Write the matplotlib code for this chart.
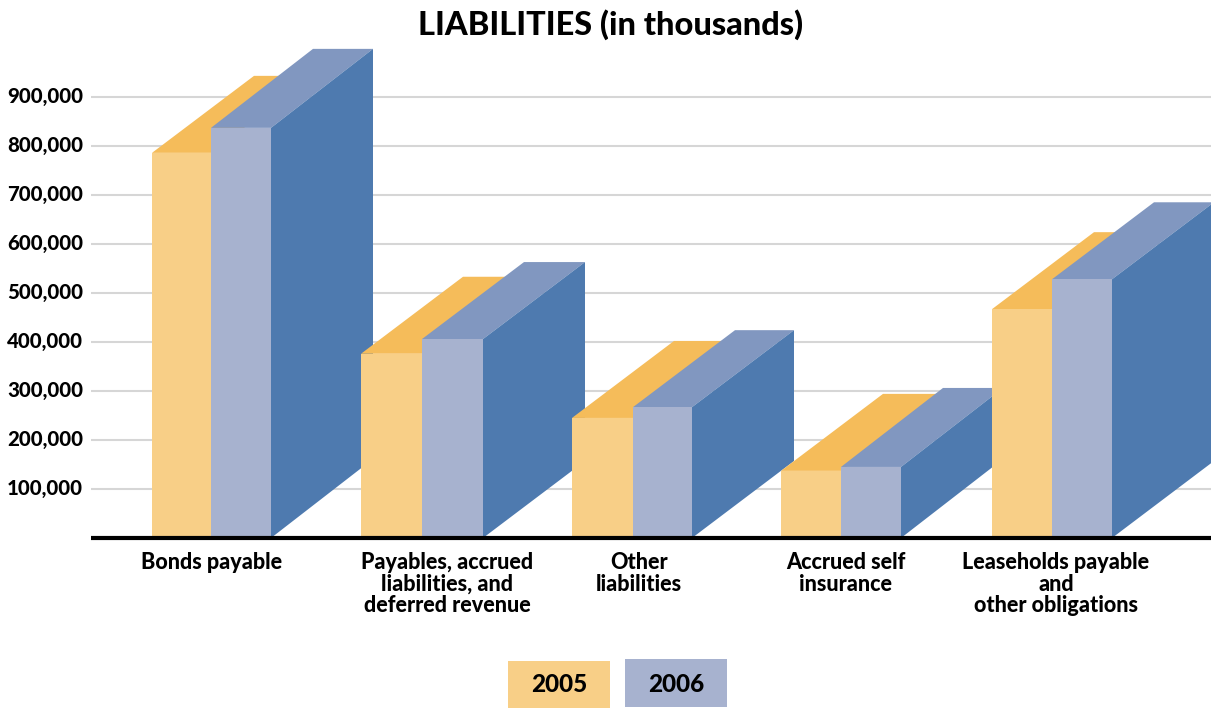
import matplotlib
matplotlib.use("Agg")
import matplotlib.pyplot as plt
from matplotlib.patches import Polygon, Rectangle

plt.rcParams["font.family"] = ["Lato", "DejaVu Sans"]

# Data
categories = [
    "Bonds payable",
    "Payables, accrued\nliabilities, and\ndeferred revenue",
    "Other\nliabilities",
    "Accrued self\ninsurance",
    "Leaseholds payable\nand\nother obligations",
]
values_2005 = [786000, 376000, 245000, 137000, 467000]
values_2006 = [837000, 406000, 267000, 145000, 528000]
tick_values = [100000, 200000, 300000, 400000, 500000, 600000, 700000, 800000, 900000]
years = ["2005", "2006"]

# Colours
front_2005 = "#F8CF87"
top_2005 = "#F5BC5A"
front_2006 = "#A7B2CF"
top_2006 = "#8197C0"
side_2006 = "#4E7AAF"
grid_col = "#D6D6D6"

# Layout, x is in pixels of the 1211 wide figure
W, H = 1211, 708
per_px = 100000 / 49
base_px = 538
group_left = [152, 361, 572, 781, 992]
group_mid = [211, 422, 633, 841, 1052]
group_right = [271, 483, 692, 901, 1112]
label_x = [212, 447, 639, 846, 1056]
depth_x = 102
depth_2005 = 77 * per_px
depth_2006 = [79 * per_px, 77 * per_px, 77 * per_px, 79 * per_px, 77 * per_px]


def py(pixel):
    # pixel row to value on the y axis
    return (base_px - pixel) * per_px


fig = plt.figure(figsize=(W / 100, H / 100), dpi=100)
ax = fig.add_axes([0, 0, 1, 1])
ax.set_xlim(0, W)
ax.set_ylim(py(H), py(0))
ax.axis("off")

# Grid lines and tick labels
ax.hlines(tick_values, 91, W, color=grid_col, lw=1.5, zorder=1)
for v in tick_values:
    ax.text(83, v, f"{v:,}", ha="right", va="center", fontsize=14.7, fontweight=900, color="black")

# 3D looking bars, later groups cover earlier ones
z = 2
for i in range(len(categories)):
    x0, x1, x2 = group_left[i], group_mid[i], group_right[i]
    v5, v6 = values_2005[i], values_2006[i]
    d6 = depth_2006[i]

    ax.add_patch(Polygon([(x0, v5), (x0 + depth_x, v5 + depth_2005), (x1 + depth_x, v5 + depth_2005), (x1, v5)],
                         facecolor=top_2005, edgecolor="none", zorder=z))
    ax.bar(x0, v5, width=x1 - x0, align="edge", color=front_2005, zorder=z + 1)
    ax.add_patch(Polygon([(x1, v6), (x1 + depth_x, v6 + d6), (x2 + depth_x, v6 + d6), (x2, v6)],
                         facecolor=top_2006, edgecolor="none", zorder=z + 2))
    ax.add_patch(Polygon([(x2, 0), (x2 + depth_x, d6), (x2 + depth_x, v6 + d6), (x2, v6)],
                         facecolor=side_2006, edgecolor="none", zorder=z + 2))
    ax.bar(x1, v6, width=x2 - x1, align="edge", color=front_2006, zorder=z + 3)
    z += 4

    ax.text(label_x[i], py(552), categories[i], ha="center", va="top", fontsize=15.5, fontweight=900,
            linespacing=1.03, color="black", zorder=50)

# Base line
ax.hlines(0, 91, W, color="black", lw=3, zorder=40)

# Title
ax.text(611, py(25), "LIABILITIES (in thousands)", ha="center", va="center", fontsize=23.4, fontweight=900, color="black")

# Legend boxes
ax.add_patch(Rectangle((508, py(708)), 102, 47 * per_px, facecolor=front_2005, edgecolor="none", zorder=5))
ax.add_patch(Rectangle((625, py(707)), 102, 48 * per_px, facecolor=front_2006, edgecolor="none", zorder=5))
ax.text(559, py(685), years[0], ha="center", va="center", fontsize=17.5, fontweight=900, zorder=6)
ax.text(676, py(684), years[1], ha="center", va="center", fontsize=17.5, fontweight=900, zorder=6)

fig.savefig("out.png", dpi=100, facecolor="white")
plt.close(fig)
